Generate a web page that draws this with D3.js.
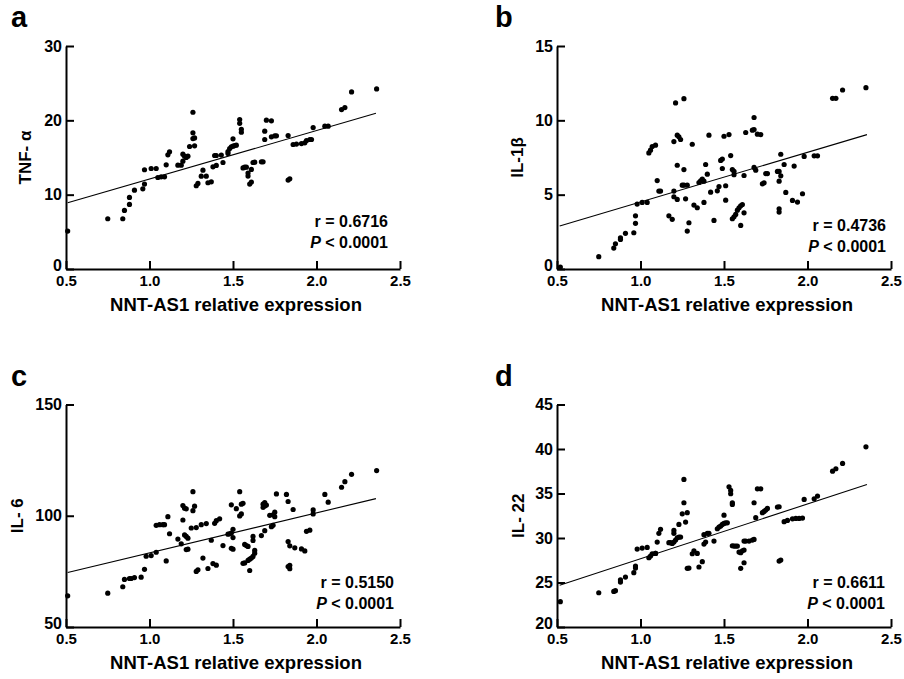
<!DOCTYPE html>
<html>
<head>
<meta charset="utf-8">
<script src="https://cdn.jsdelivr.net/npm/d3@7"></script>
<style>
  body { margin: 0; background: #fff; }
  svg text { font-family: "Liberation Sans", Arial, sans-serif; font-weight: bold; fill: #000; }
</style>
</head>
<body>
<div id="chart"></div>
<script>
// values: [NNT-AS1 relative expression, cytokine level]
var tnfPoints = [
  [0.51,5.1],[0.75,6.76],[0.84,6.76],[0.85,7.88],[0.88,8.69],[0.88,9.63],[0.91,10.61],[0.96,10.79],
  [0.97,11.42],[0.97,13.35],[1.01,13.52],[1.04,13.52],[1.05,12.31],[1.07,12.4],[1.09,12.4],[1.10,14.02],
  [1.11,15.36],[1.12,15.76],[1.17,13.97],[1.19,13.97],[1.20,14.5],[1.20,15.45],[1.21,15.18],[1.22,15.0],
  [1.23,15.18],[1.24,16.48],[1.26,17.55],[1.26,18.32],[1.27,17.64],[1.27,16.57],[1.26,21.09],[1.28,11.2],
  [1.29,11.51],[1.32,13.3],[1.31,12.49],[1.34,12.49],[1.35,11.6],[1.37,11.73],[1.38,13.75],[1.40,13.93],
  [1.39,15.27],[1.40,15.27],[1.43,15.32],[1.44,14.33],[1.47,15.54],[1.47,15.81],[1.48,16.21],[1.49,16.43],
  [1.50,16.52],[1.51,16.61],[1.52,16.66],[1.50,17.51],[1.54,20.1],[1.54,19.6],[1.55,18.8],[1.55,18.4],
  [1.56,13.6],[1.57,13.7],[1.58,13.7],[1.59,12.9],[1.59,12.5],[1.61,13.4],[1.60,11.42],[1.61,11.69],
  [1.62,14.33],[1.63,14.37],[1.67,14.42],[1.68,14.42],[1.69,18.54],[1.69,17.42],[1.70,20.02],[1.73,19.93],
  [1.73,17.78],[1.75,17.91],[1.76,17.91],[1.83,17.96],[1.83,11.96],[1.84,12.14],[1.86,16.75],[1.88,16.8],
  [1.91,16.88],[1.93,16.97],[1.94,17.29],[1.96,17.42],[1.97,17.42],[1.98,19.03],[2.05,19.21],[2.07,19.21],
  [2.15,21.45],[2.17,21.72],[2.21,23.82],[2.36,24.23]
];
var il1bPoints = [
  [0.52,0.13],[0.75,0.83],[0.84,1.41],[0.85,1.7],[0.88,1.99],[0.88,2.1],[0.91,2.4],[0.96,2.44],
  [0.97,3.07],[0.97,3.58],[0.98,4.37],[1.01,4.48],[1.04,4.48],[1.05,7.81],[1.06,7.99],[1.07,8.24],
  [1.09,8.33],[1.10,5.95],[1.11,5.24],[1.12,5.24],[1.17,3.58],[1.19,3.34],[1.20,5.24],[1.21,11.17],
  [1.20,8.57],[1.20,4.86],[1.22,4.68],[1.22,6.98],[1.22,9.0],[1.23,8.89],[1.24,8.71],[1.26,11.46],
  [1.25,5.64],[1.26,5.64],[1.28,5.64],[1.26,6.69],[1.27,4.72],[1.28,2.55],[1.29,3.11],[1.31,8.39],
  [1.32,4.3],[1.34,4.12],[1.35,5.82],[1.36,5.93],[1.37,6.04],[1.38,5.91],[1.38,4.48],[1.39,7.03],
  [1.40,6.38],[1.41,9.0],[1.42,5.17],[1.44,3.27],[1.46,5.26],[1.47,5.55],[1.48,7.3],[1.49,7.4],
  [1.49,6.76],[1.50,8.93],[1.53,9.04],[1.51,5.6],[1.51,4.63],[1.54,7.63],[1.55,6.69],[1.56,6.56],
  [1.56,6.34],[1.55,3.38],[1.56,3.51],[1.57,3.67],[1.58,3.96],[1.59,4.12],[1.60,4.25],[1.61,4.34],
  [1.60,2.93],[1.62,6.29],[1.62,3.78],[1.63,9.18],[1.67,9.34],[1.68,9.38],[1.70,9.07],[1.72,9.04],
  [1.68,10.19],[1.68,6.83],[1.69,6.65],[1.73,5.73],[1.74,5.8],[1.75,6.42],[1.76,6.42],[1.82,6.56],
  [1.83,6.56],[1.84,6.27],[1.83,5.91],[1.83,4.05],[1.83,3.83],[1.84,7.72],[1.86,7.03],[1.87,5.15],
  [1.91,4.61],[1.92,6.92],[1.94,4.5],[1.97,5.06],[1.98,7.57],[2.04,7.61],[2.06,7.61],[2.15,11.48],
  [2.17,11.48],[2.21,12.04],[2.35,12.2]
];
var il6Points = [
  [0.51,64.0],[0.75,65.2],[0.84,68.1],[0.85,71.4],[0.88,71.8],[0.89,71.8],[0.91,72.2],[0.95,72.4],
  [0.97,75.9],[0.98,81.8],[1.01,82.1],[1.04,83.6],[1.04,95.7],[1.06,96.0],[1.08,96.0],[1.09,96.0],
  [1.10,79.7],[1.11,99.6],[1.12,91.9],[1.17,89.5],[1.19,87.4],[1.20,98.1],[1.20,104.6],[1.21,103.4],
  [1.22,103.1],[1.21,91.4],[1.22,90.7],[1.23,89.9],[1.22,84.8],[1.23,85.0],[1.25,94.5],[1.28,94.7],
  [1.26,110.8],[1.26,102.3],[1.27,104.3],[1.28,75.0],[1.29,75.7],[1.31,96.0],[1.34,96.5],[1.32,81.0],
  [1.35,76.3],[1.37,89.0],[1.38,78.5],[1.40,77.8],[1.39,96.6],[1.40,97.8],[1.42,98.6],[1.44,86.6],
  [1.47,91.7],[1.48,91.9],[1.49,92.2],[1.49,104.9],[1.49,85.4],[1.50,85.0],[1.50,90.2],[1.50,93.9],
  [1.52,103.2],[1.54,110.8],[1.55,105.2],[1.56,105.6],[1.55,100.8],[1.54,99.9],[1.56,78.6],[1.57,78.8],
  [1.57,87.1],[1.58,86.6],[1.59,86.2],[1.59,79.9],[1.60,75.4],[1.60,80.5],[1.61,81.0],[1.62,81.7],
  [1.63,83.2],[1.62,90.7],[1.62,88.9],[1.63,84.4],[1.67,91.1],[1.69,93.3],[1.68,103.7],[1.68,105.2],
  [1.69,104.4],[1.69,105.9],[1.70,104.8],[1.72,100.2],[1.73,95.1],[1.74,100.4],[1.74,95.7],[1.75,99.6],
  [1.75,101.6],[1.76,109.8],[1.82,109.6],[1.83,106.4],[1.83,88.4],[1.83,77.2],[1.84,77.7],[1.84,76.2],
  [1.84,86.5],[1.87,85.6],[1.86,102.8],[1.91,85.1],[1.93,84.2],[1.94,93.0],[1.96,93.5],[1.98,102.6],
  [1.98,100.8],[2.05,109.6],[2.07,106.1],[2.15,112.8],[2.17,115.3],[2.21,118.6],[2.36,120.3]
];
var il22Points = [
  [0.52,22.84],[0.75,23.85],[0.84,24.0],[0.85,24.08],[0.88,25.05],[0.88,25.31],[0.91,25.61],[0.96,26.1],
  [0.97,26.62],[0.97,26.85],[0.98,28.76],[1.01,28.87],[1.04,28.94],[1.05,27.78],[1.06,27.97],[1.07,28.23],
  [1.09,28.27],[1.09,28.27],[1.10,29.54],[1.11,30.52],[1.12,30.97],[1.17,29.47],[1.18,29.47],[1.19,29.39],
  [1.20,30.85],[1.20,30.52],[1.20,29.54],[1.21,29.77],[1.22,30.03],[1.23,30.1],[1.24,30.1],[1.23,31.53],
  [1.25,32.72],[1.28,32.84],[1.26,36.58],[1.26,33.96],[1.27,31.79],[1.28,26.59],[1.29,26.62],[1.31,28.23],
  [1.32,28.57],[1.34,28.27],[1.35,26.74],[1.37,27.34],[1.38,29.32],[1.38,30.37],[1.39,29.54],[1.40,30.52],
  [1.41,30.52],[1.44,29.66],[1.46,31.04],[1.47,31.23],[1.48,31.34],[1.49,31.53],[1.50,31.64],[1.51,31.71],
  [1.52,31.71],[1.50,32.57],[1.53,35.76],[1.54,35.34],[1.54,34.97],[1.55,33.96],[1.55,33.77],[1.55,29.13],
  [1.56,29.09],[1.57,29.09],[1.58,29.09],[1.59,28.42],[1.60,28.35],[1.61,28.57],[1.62,28.65],[1.60,26.59],
  [1.62,27.22],[1.62,29.66],[1.63,29.66],[1.65,29.66],[1.67,29.77],[1.68,29.84],[1.68,33.96],[1.69,32.28],
  [1.70,35.53],[1.72,35.53],[1.73,32.84],[1.74,32.99],[1.75,33.14],[1.76,33.32],[1.82,33.47],[1.83,33.51],
  [1.83,27.41],[1.84,27.52],[1.86,31.83],[1.88,31.98],[1.91,32.16],[1.93,32.2],[1.95,32.2],[1.97,32.24],
  [1.98,34.33],[2.04,34.41],[2.06,34.71],[2.15,37.51],[2.17,37.78],[2.21,38.38],[2.35,40.25]
];

// fitted regression lines, start and end points as drawn in the figure
var tnfFit = [[0.51, 8.9], [2.356, 20.95]];
var il1bFit = [[0.516, 2.89], [2.356, 9.04]];
var il6Fit = [[0.51, 74.5], [2.356, 107.7]];
var il22Fit = [[0.516, 24.68], [2.356, 36.02]];

var xTicks = [0.5, 1.0, 1.5, 2.0, 2.5];
var tnfTicks = [0, 10, 20, 30];
var il1bTicks = [0, 5, 10, 15];
var il6Ticks = [50, 100, 150];
var il22Ticks = [20, 25, 30, 35, 40, 45];

var panelLetters = ['a', 'b', 'c', 'd'];
var yTitles = ['TNF- α', 'IL-1β', 'IL- 6', 'IL- 22'];
var rValues = ['0.6716', '0.4736', '0.5150', '0.6611'];
var xTitle = 'NNT-AS1 relative expression';

var width = 904, height = 679;

var svg = d3.select('#chart')
  .append('svg')
  .attr('width', width)
  .attr('height', height);

var panels = [
  {points: tnfPoints, fit: tnfFit, yTicks: tnfTicks, left: 66, top: 46, bottom: 269, titleX: 31, statX: 388, statY: 227},
  {points: il1bPoints, fit: il1bFit, yTicks: il1bTicks, left: 557, top: 46, bottom: 269, titleX: 523, statX: 886, statY: 231},
  {points: il6Points, fit: il6Fit, yTicks: il6Ticks, left: 66, top: 404.5, bottom: 627, titleX: 23, statX: 394, statY: 588},
  {points: il22Points, fit: il22Fit, yTicks: il22Ticks, left: 557, top: 404.5, bottom: 627, titleX: 524, statX: 885, statY: 588}
];

panels.forEach(function(p, i) {
  var right = p.left + 334;
  var yDomain = d3.extent(p.yTicks);

  var x = d3.scaleLinear().domain([0.5, 2.5]).range([p.left, right]);
  var y = d3.scaleLinear().domain(yDomain).range([p.bottom, p.top]);

  var g = svg.append('g');

  // panel letter
  g.append('text')
    .attr('x', p.left < 100 ? 11 : 495)
    .attr('y', p.top - 19)
    .style('font-size', '29px')
    .text(panelLetters[i]);

  var xAxis = g.append('g')
    .attr('transform', 'translate(0,' + p.bottom + ')')
    .call(d3.axisBottom(x).tickValues(xTicks).tickFormat(d3.format('.1f'))
      .tickSizeInner(-8).tickSizeOuter(0).tickPadding(6));

  var yAxis = g.append('g')
    .attr('transform', 'translate(' + p.left + ',0)')
    .call(d3.axisLeft(y).tickValues(p.yTicks).tickFormat(d3.format('d'))
      .tickSizeInner(-8).tickSizeOuter(0).tickPadding(4));

  [xAxis, yAxis].forEach(function(a) {
    a.select('.domain').attr('stroke', '#000').attr('stroke-width', 2);
    a.selectAll('.tick line').attr('stroke', '#000').attr('stroke-width', 2);
  });
  xAxis.selectAll('.tick text').style('font-size', '15px');
  yAxis.selectAll('.tick text').style('font-size', '16px');
  // lift the bottom y label a touch so it clears the x labels
  yAxis.selectAll('.tick text').filter(function(d) { return d === yDomain[0]; }).attr('dy', '0.1em');

  // x title
  g.append('text')
    .attr('x', (p.left + right) / 2 + 3)
    .attr('y', p.bottom + 42)
    .attr('text-anchor', 'middle')
    .style('font-size', '18.5px')
    .text(xTitle);

  // y title
  g.append('text')
    .attr('transform', 'translate(' + p.titleX + ',' + (p.top + p.bottom) / 2 + ') rotate(-90)')
    .attr('text-anchor', 'middle')
    .style('font-size', '17px')
    .text(yTitles[i]);

  // regression line
  g.append('line')
    .attr('x1', x(p.fit[0][0]))
    .attr('y1', y(p.fit[0][1]))
    .attr('x2', x(p.fit[1][0]))
    .attr('y2', y(p.fit[1][1]))
    .attr('stroke', '#000')
    .attr('stroke-width', 1.1);

  // points
  g.selectAll('.dot')
    .data(p.points)
    .enter().append('circle')
    .attr('class', 'dot')
    .attr('cx', function(d) { return x(d[0]); })
    .attr('cy', function(d) { return y(d[1]); })
    .attr('r', 2.6)
    .attr('fill', '#000');

  // stats
  g.append('text')
    .attr('x', p.statX)
    .attr('y', p.statY)
    .attr('text-anchor', 'end')
    .style('font-size', '16px')
    .text('r = ' + rValues[i]);

  var pText = g.append('text')
    .attr('x', p.statX)
    .attr('y', p.statY + 21)
    .attr('text-anchor', 'end')
    .style('font-size', '16px');
  pText.append('tspan').style('font-style', 'italic').text('P');
  pText.append('tspan').text(' < 0.0001');
});
</script>
</body>
</html>
